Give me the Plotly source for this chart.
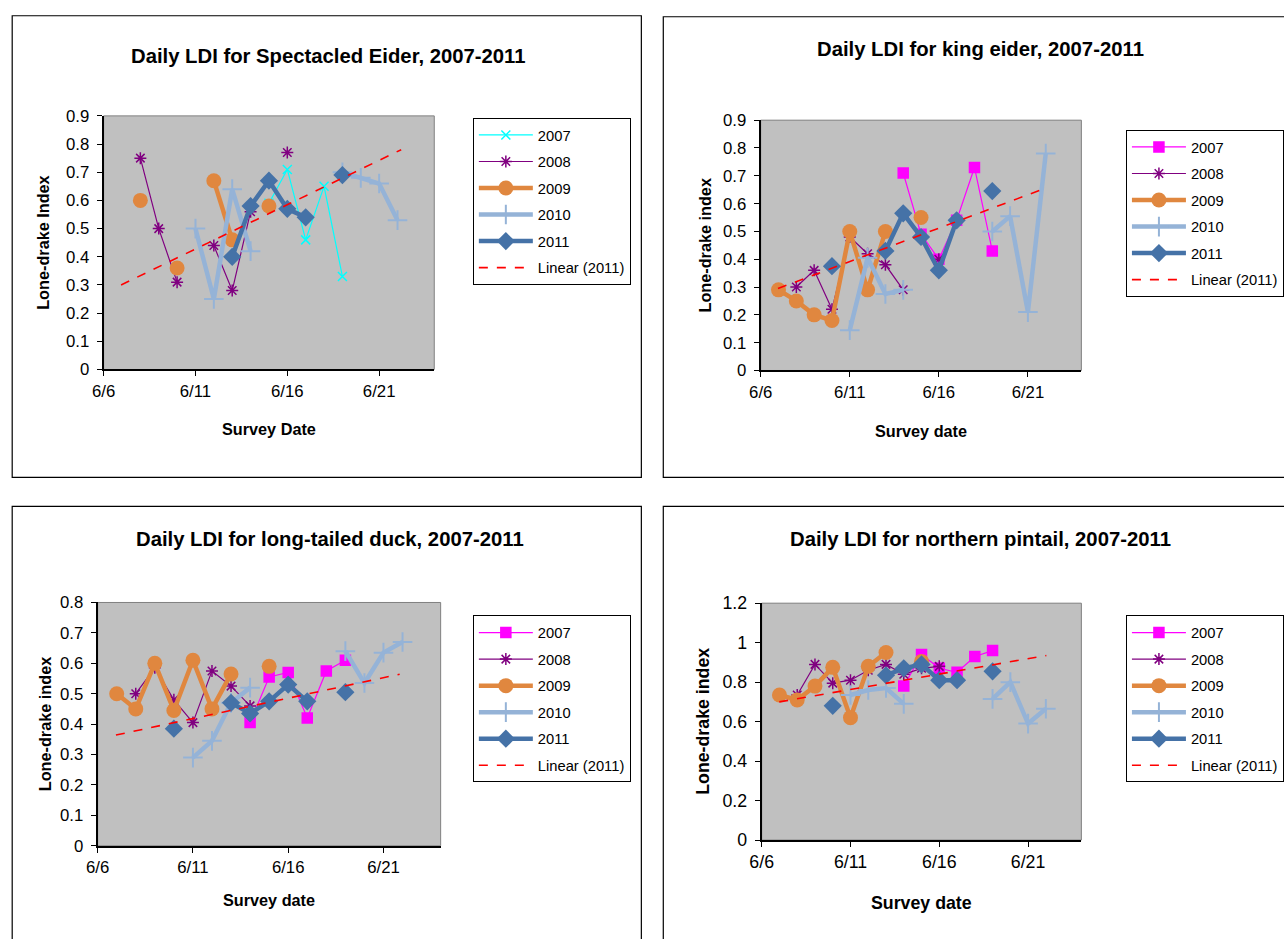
import plotly.graph_objects as go

# ---------------- data (June day numbers) ----------------
DAYS = [7, 8, 9, 10, 11, 12, 13, 14, 15, 16, 17, 18, 19, 20, 21, 22]
X_TICKS = [6, 11, 16, 21]
X_TICK_LABELS = ["6/6", "6/11", "6/16", "6/21"]
YEARS = ["2007", "2008", "2009", "2010", "2011"]

# Spectacled eider
SE_2007 = [None, None, None, None, None, None, None, None, 0.59, 0.71, 0.46, 0.65, 0.33, None, None, None]
SE_2008 = [None, 0.75, 0.50, 0.31, None, 0.44, 0.28, 0.56, None, 0.77, None, None, None, None, None, None]
SE_2009 = [None, 0.60, None, 0.36, None, 0.67, 0.46, None, 0.58, None, None, None, None, None, None, None]
SE_2010 = [None, None, None, None, 0.50, 0.25, 0.64, 0.42, None, None, None, None, 0.70, 0.68, 0.66, 0.53]
SE_2011 = [None, None, None, None, None, None, 0.40, 0.58, 0.67, 0.57, 0.54, None, 0.69, None, None, None]
SE_TREND_X = [6.95, 22.2]
SE_TREND_Y = [0.30, 0.78]

# King eider
KE_2007 = [None, None, None, None, None, None, None, 0.71, 0.49, 0.40, 0.54, 0.73, 0.43, None, None, None]
KE_2008 = [None, 0.30, 0.36, 0.22, 0.48, 0.42, 0.38, 0.29, None, 0.40, None, None, None, None, None, None]
KE_2009 = [0.29, 0.25, 0.20, 0.18, 0.50, 0.29, 0.50, None, 0.55, None, None, None, None, None, None, None]
KE_2010 = [None, None, None, None, 0.145, 0.405, 0.275, 0.29, None, None, None, None, 0.50, 0.555, 0.21, 0.78]
KE_2011 = [None, None, None, 0.375, None, None, 0.43, 0.565, 0.48, 0.36, 0.54, None, 0.645, None, None, None]
KE_TREND_X = [6.97, 21.76]
KE_TREND_Y = [0.295, 0.65]

# Long-tailed duck
LT_2007 = [None, None, None, None, None, None, None, 0.405, 0.555, 0.57, 0.42, 0.575, 0.61, None, None, None]
LT_2008 = [None, 0.50, 0.585, 0.48, 0.405, 0.575, 0.525, 0.46, None, None, None, None, None, None, None, None]
LT_2009 = [0.50, 0.45, 0.60, 0.445, 0.61, 0.45, 0.565, None, 0.59, None, None, None, None, None, None, None]
LT_2010 = [None, None, None, None, 0.29, 0.345, 0.47, 0.52, None, None, None, None, 0.64, 0.535, 0.635, 0.67]
LT_2011 = [None, None, None, 0.385, None, None, 0.47, 0.435, 0.475, 0.53, 0.475, None, 0.505, None, None, None]
LT_TREND_X = [6.96, 21.85]
LT_TREND_Y = [0.364, 0.564]

# Northern pintail
NP_2007 = [None, None, None, None, None, None, None, 0.78, 0.94, 0.87, 0.85, 0.93, 0.96, None, None, None]
NP_2008 = [None, 0.735, 0.89, 0.795, 0.81, 0.86, 0.89, 0.84, 0.87, 0.88, None, None, None, None, None, None]
NP_2009 = [0.735, 0.71, 0.78, 0.875, 0.62, 0.88, 0.95, None, 0.905, None, None, None, None, None, None, None]
NP_2010 = [None, None, None, None, 0.735, 0.76, 0.77, 0.69, None, None, None, None, 0.715, 0.80, 0.59, 0.665]
NP_2011 = [None, None, None, 0.68, None, None, 0.835, 0.87, 0.89, 0.81, 0.81, None, 0.855, None, None, None]
NP_TREND_X = [6.99, 22.03]
NP_TREND_Y = [0.70, 0.935]

# ---------------- layout helpers ----------------
W, H = 1284, 939
FONT = "Liberation Sans, Arial, sans-serif"
# screen-position compensation measured from a calibration render
AX, BX = 0.992, 10.8
AY, BY = 0.9775, 9.25
FS = 1 / 0.985


def px_x(x):
    return ((x - BX) / AX) / W


def px_y(y):
    return 1 - ((y - BY) / AY) / H


panels = [
    dict(title="Daily LDI for Spectacled Eider, 2007-2011", series=[SE_2007, SE_2008, SE_2009, SE_2010, SE_2011],
         trend=(SE_TREND_X, SE_TREND_Y), c2007="#00FFFF", s2007="x-thin-open",
         plot=(102.7, 434.3, 115.0, 368.3), yr=(0, 0.9, 0.1), title_xy=(328, 55),
         ytitle="Lone-drake Index", ytitle_x=42, xtitle="Survey Date", xtitle_y=428,
         legend=(473, 117), tick=16.5, axt=16),
    dict(title="Daily LDI for king eider, 2007-2011", series=[KE_2007, KE_2008, KE_2009, KE_2010, KE_2011],
         trend=(KE_TREND_X, KE_TREND_Y), c2007="#FF00FF", s2007="square",
         plot=(761.7, 1083.3, 119.3, 369.3), yr=(0, 0.9, 0.1), title_xy=(982, 48),
         ytitle="Lone-drake index", ytitle_x=706, xtitle="Survey date", xtitle_y=430,
         legend=(1128, 129), tick=16.5, axt=16),
    dict(title="Daily LDI for long-tailed duck, 2007-2011", series=[LT_2007, LT_2008, LT_2009, LT_2010, LT_2011],
         trend=(LT_TREND_X, LT_TREND_Y), c2007="#FF00FF", s2007="square",
         plot=(96.7, 440.7, 601.0, 844.0), yr=(0, 0.8, 0.1), title_xy=(330, 538),
         ytitle="Lone-drake index", ytitle_x=44, xtitle="Survey date", xtitle_y=898,
         legend=(473, 614), tick=16.5, axt=16),
    dict(title="Daily LDI for northern pintail, 2007-2011", series=[NP_2007, NP_2008, NP_2009, NP_2010, NP_2011],
         trend=(NP_TREND_X, NP_TREND_Y), c2007="#FF00FF", s2007="square",
         plot=(762.7, 1083.3, 601.7, 838.3), yr=(0, 1.2, 0.2), title_xy=(982, 538),
         ytitle="Lone-drake index", ytitle_x=703, xtitle="Survey date", xtitle_y=901,
         legend=(1128, 614), tick=17.5, axt=17.5),
]

fig = go.Figure()
annotations = []
shapes = []
layout = {}

C2008 = "#800080"
C2009 = "#E0873F"
C2010 = "#95B3D7"
C2011 = "#4572A7"

for i, p in enumerate(panels):
    n = "" if i == 0 else str(i + 1)
    xa, ya = "x" + n, "y" + n
    leg = "legend" + n
    s07, s08, s09, s10, s11 = p["series"]
    styles = [
        (s07, dict(color=p["c2007"], width=1.2),
         dict(symbol=p["s2007"], size=10 if p["s2007"] == "square" else 9, color=p["c2007"],
              line=dict(color=p["c2007"], width=1.5))),
        (s08, dict(color=C2008, width=1.2),
         dict(symbol="asterisk-open", size=10, color=C2008, line=dict(color=C2008, width=1.5))),
        (s09, dict(color=C2009, width=4.5),
         dict(symbol="circle", size=15, color=C2009)),
        (s10, dict(color=C2010, width=4.5),
         dict(symbol="cross-thin-open", size=14, color=C2010, line=dict(color=C2010, width=2))),
        (s11, dict(color=C2011, width=4.5),
         dict(symbol="diamond", size=14, color=C2011)),
    ]
    for yr_name, (vals, line, marker) in zip(YEARS, styles):
        fig.add_trace(go.Scatter(x=DAYS, y=vals, mode="lines+markers", name=yr_name,
                                 line=line, marker=marker, connectgaps=False,
                                 xaxis=xa, yaxis=ya, legend=leg, legendgroup=leg + yr_name))
    tx, ty = p["trend"]
    fig.add_trace(go.Scatter(x=tx, y=ty, mode="lines", name="Linear (2011)",
                             line=dict(color="#FF0000", width=1.6, dash="dash"),
                             xaxis=xa, yaxis=ya, legend=leg, legendgroup=leg + "trend"))

    x0, x1, y0, y1 = p["plot"]
    lo, hi, step = p["yr"]
    layout["xaxis" + n] = dict(domain=[px_x(x0), px_x(x1)], anchor=ya, range=[6, 24],
                               tickvals=X_TICKS, ticktext=X_TICK_LABELS, ticks="outside", ticklen=5,
                               tickcolor="black", showline=True, linecolor="black", linewidth=2,
                               showgrid=False, zeroline=False,
                               tickfont=dict(family=FONT, size=p["tick"] * FS, color="black"))
    layout["yaxis" + n] = dict(domain=[px_y(y1), px_y(y0)], anchor=xa, range=[lo, hi], dtick=step,
                               tick0=0, ticks="outside", ticklen=5, tickcolor="black",
                               showline=True, linecolor="black", linewidth=2,
                               showgrid=False, zeroline=False, ticklabelstandoff=4,
                               tickfont=dict(family=FONT, size=p["tick"] * FS, color="black"))
    shapes.append(dict(type="rect", xref=xa + " domain", yref=ya + " domain", x0=0, x1=1, y0=0, y1=1,
                       line=dict(color="#808080", width=1), fillcolor="rgba(0,0,0,0)", layer="below"))
    lx, ly = p["legend"]
    layout[leg] = dict(x=px_x(lx), y=px_y(ly), xanchor="left", yanchor="top", bgcolor="white",
                       bordercolor="black", borderwidth=1, tracegroupgap=4.4, traceorder="grouped",
                       font=dict(family=FONT, size=14.5 * FS, color="black"), itemwidth=54)
    tx_, ty_ = p["title_xy"]
    annotations.append(dict(text="<b>" + p["title"] + "</b>", x=px_x(tx_), y=px_y(ty_), xref="paper",
                            yref="paper", showarrow=False, xanchor="center", yanchor="middle",
                            font=dict(family=FONT, size=20.3, color="black")))
    annotations.append(dict(text="<b>" + p["xtitle"] + "</b>", x=px_x((x0 + x1) / 2), y=px_y(p["xtitle_y"]),
                            xref="paper", yref="paper", showarrow=False, xanchor="center",
                            yanchor="middle", font=dict(family=FONT, size=p["axt"] * FS, color="black")))
    annotations.append(dict(text="<b>" + p["ytitle"] + "</b>", x=px_x(p["ytitle_x"]), y=px_y((y0 + y1) / 2),
                            xref="paper", yref="paper", showarrow=False, xanchor="center",
                            yanchor="middle", textangle=-90,
                            font=dict(family=FONT, size=p["axt"] * FS, color="black")))

# panel borders
for (bx0, bx1, by0, by1) in [(11, 642, 15, 476), (664, 1300, 16, 476), (11, 642, 505, 960), (664, 1300, 505, 960)]:
    shapes.append(dict(type="rect", xref="paper", yref="paper", x0=px_x(bx0), x1=px_x(bx1),
                       y0=px_y(by1), y1=px_y(by0), line=dict(color="black", width=1.2),
                       fillcolor="rgba(0,0,0,0)"))

fig.update_layout(width=W, height=H, margin=dict(l=0, r=0, t=0, b=0), paper_bgcolor="white",
                  plot_bgcolor="#C0C0C0", showlegend=True, annotations=annotations, shapes=shapes,
                  **layout)
fig.write_html("out.html", config={"displayModeBar": False},
               post_script="document.body.style.margin='0';document.body.style.overflow='hidden';")
